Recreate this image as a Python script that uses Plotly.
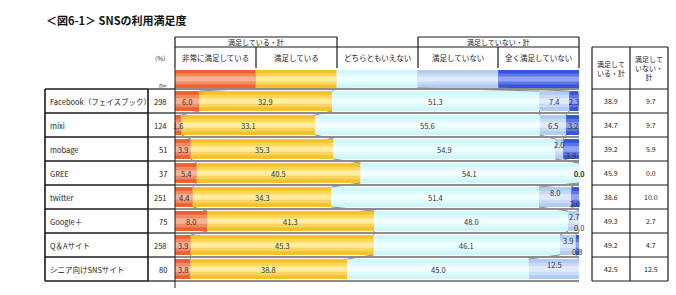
import plotly.graph_objects as go

# ---------------- data ----------------
platforms = ["Facebook（フェイスブック）", "mixi", "mobage", "GREE", "twitter",
             "Google＋", "Q＆Aサイト", "シニア向けSNSサイト"]
n_values = [298, 124, 51, 37, 251, 75, 258, 80]
categories = ["非常に満足している", "満足している", "どちらともいえない",
              "満足していない", "全く満足していない"]
very_satisfied = [6.0, 1.6, 3.9, 5.4, 4.4, 8.0, 3.9, 3.8]
satisfied = [32.9, 33.1, 35.3, 40.5, 34.3, 41.3, 45.3, 38.8]
neutral = [51.3, 55.6, 54.9, 54.1, 51.4, 48.0, 46.1, 45.0]
dissatisfied = [7.4, 6.5, 2.0, 0.0, 8.0, 2.7, 3.9, 12.5]
very_dissatisfied = [2.3, 3.2, 3.9, 0.0, 2.0, 0.0, 0.8, 0.0]
total_satisfied = [38.9, 34.7, 39.2, 45.9, 38.6, 49.3, 49.2, 42.5]
total_dissatisfied = [9.7, 9.7, 5.9, 0.0, 10.0, 2.7, 4.7, 12.5]
series = [very_satisfied, satisfied, neutral, dissatisfied, very_dissatisfied]

# ---------------- styling ----------------
W, H = 676, 295
FONT = "Noto Sans CJK JP"
# (edge, mid, light) per category to fake a vertical gradient
shades = [
    ("#EE6030", "#F38A60", "#F7B295"),
    ("#F6C22A", "#FBD65A", "#FFEC9E"),
    ("#CFF6FA", "#E0FBFD", "#F2FFFF"),
    ("#B2CCF0", "#C8DAF5", "#E0EAFB"),
    ("#3454DE", "#5C76E8", "#95A4F2"),
]


def px(x):
    return x / W


def py(y):
    return 1 - y / H


BAR_W = 0.83
SW_Y = -0.9167   # row position of the key swatches above the table
SW_W = 0.75

fig = go.Figure()

nrows = len(platforms)
cum = []
for i in range(nrows):
    c = [0.0]
    for s in series:
        c.append(c[-1] + s[i])
    cum.append(c)

# connector lines (series lines) between bars
lx, ly = [], []
ncat = len(categories)
key_w = 100 / ncat
for j in range(1, ncat):
    lx += [key_w * j, cum[0][j], None]
    ly += [SW_Y + SW_W / 2, 0 - BAR_W / 2, None]
    for i in range(nrows - 1):
        lx += [cum[i][j], cum[i + 1][j], None]
        ly += [i + BAR_W / 2, i + 1 - BAR_W / 2, None]
fig.add_trace(go.Scatter(x=lx, y=ly, mode="lines",
                         line=dict(color="#8C8C8C", width=1),
                         hoverinfo="skip", showlegend=False, cliponaxis=False))

rows = list(range(nrows))
for layer, frac in enumerate([1.0, 0.62, 0.28]):
    for k, s in enumerate(series):
        col = shades[k][layer]
        fig.add_trace(go.Bar(
            y=rows, x=s, base=[cum[i][k] for i in rows], orientation="h",
            width=BAR_W * frac, marker=dict(color=col, line=dict(width=0)),
            showlegend=False, hoverinfo="skip"))
        fig.add_trace(go.Bar(
            y=[SW_Y], x=[key_w], base=[key_w * k], orientation="h",
            width=SW_W * frac, marker=dict(color=col, line=dict(width=0)),
            showlegend=False, hoverinfo="skip"))

annotations = []
shapes = []


def ann(x, y, text, size, xref="paper", yref="paper", xanchor="center",
        yanchor="middle", color="#222222", yshift=0):
    annotations.append(dict(x=x, y=y, xref=xref, yref=yref, text=text,
                            showarrow=False, xanchor=xanchor, yanchor=yanchor,
                            yshift=yshift,
                            font=dict(family=FONT, size=size, color=color)))


# value labels in bars
for i in rows:
    small = min(dissatisfied[i], very_dissatisfied[i])
    stagger = small < 2.2 and (dissatisfied[i] + very_dissatisfied[i]) > 0
    for k, s in enumerate(series):
        v = s[i]
        xc = cum[i][k] + v / 2
        ys = 0
        if stagger and k == 3:
            ys = 5
        if stagger and k == 4:
            ys = -6
        ann(xc, i, f"{v:.1f}", 7.5, xref="x", yref="y", color="#333333", yshift=ys)

# left & right table texts
for i in rows:
    ann(px(48), i, platforms[i], 7.5, yref="y", xanchor="left")
    ann(px(169), i, str(n_values[i]), 7.5, yref="y", xanchor="right")
    ann(px(611), i, f"{total_satisfied[i]:.1f}", 7, yref="y")
    ann(px(651), i, f"{total_dissatisfied[i]:.1f}", 7, yref="y")

# title and headers
ann(px(44), py(20), "<b>＜図6-1＞ SNSの利用満足度</b>", 11, xanchor="left", color="#111111")
ann(px(160), py(58), "(%)", 6.5, color="#333333")
ann(px(163), py(85), "n=", 6, color="#333333")

col_edges = [175, 256, 337, 418, 498, 579]
for k, c in enumerate(categories):
    ann(px((col_edges[k] + col_edges[k + 1]) / 2), py(57.5), c, 7.5)
ann(px((175 + 337) / 2), py(42), "満足している・計", 7)
ann(px((418 + 579) / 2), py(42), "満足していない・計", 7)
ann(px(611), py(68), "満足して<br>いる・計", 7)
ann(px(649), py(68), "満足して<br>いない・<br>計", 7)


def line(x0, y0, x1, y1, w=1.0, color="#1A1A1A", layer="above"):
    shapes.append(dict(type="line", xref="paper", yref="paper",
                       x0=px(x0), y0=py(y0), x1=px(x1), y1=py(y1),
                       line=dict(color=color, width=w), layer=layer))


# header boxes
for (a, b) in [(175, 337), (418, 579)]:
    line(a, 37, b, 37, 1.2)
    line(a, 37, a, 47, 1.2)
    line(b, 37, b, 47, 1.2)
line(175, 47, 579, 47, 1.2)
for x in col_edges:
    line(x, 47, x, 68, 1.2)

# left table
row_lines = [89 + 24 * k for k in range(nrows + 1)]
for yv in row_lines:
    line(45, yv, 148, yv, 1.6)
    line(148, yv, 175, yv, 1.2)
    line(175, yv, 579, yv, 1.0, layer="below")
line(45, 89, 45, 281, 1.6)
line(148, 89, 148, 281, 1.6)
line(175, 68, 175, 288, 1.0)

# right table
for yv in [47] + row_lines:
    line(592, yv, 668, yv, 1.2)
for x in [592, 630, 668]:
    line(x, 47, x, 281, 1.2)

fig.update_layout(
    width=W, height=H, margin=dict(l=0, r=0, t=0, b=0),
    paper_bgcolor="white", plot_bgcolor="rgba(0,0,0,0)",
    barmode="overlay", showlegend=False,
    xaxis=dict(domain=[px(175), px(579)], range=[0, 100], visible=False, fixedrange=True),
    yaxis=dict(domain=[py(281), py(60)], range=[7.5, -1.70833], visible=False, fixedrange=True),
    annotations=annotations, shapes=shapes,
)

fig.write_html("out.html")
